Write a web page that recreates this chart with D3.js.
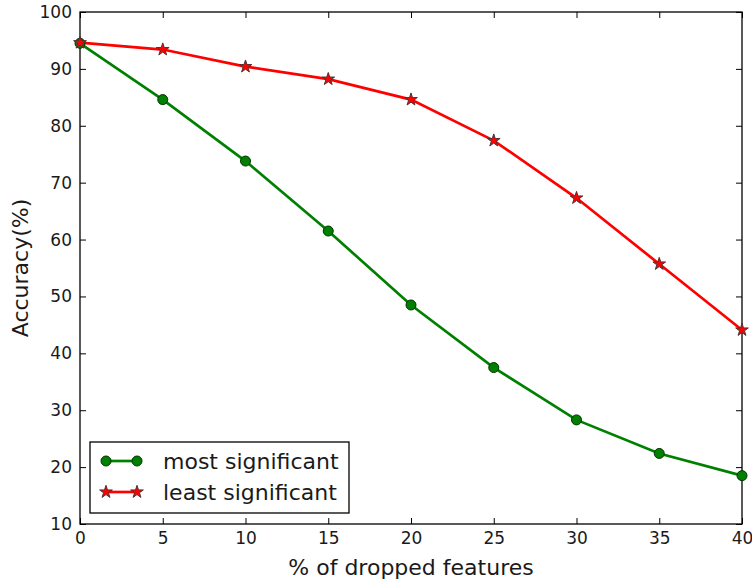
<!DOCTYPE html>
<meta charset="utf-8">
<style>
body { margin: 0; background: #fff; }
text { font-family: "DejaVu Sans", sans-serif; fill: #1a1a1a; }
.axis path, .axis line { stroke: #000; }
</style>
<body>
<svg width="752" height="582"></svg>
<script src="https://d3js.org/d3.v7.min.js"></script>
<script>
// values
var dropped = [0, 5, 10, 15, 20, 25, 30, 35, 40];
var mostSignificant  = [94.5, 84.6, 73.8, 61.5, 48.5, 37.5, 28.3, 22.4, 18.5];
var leastSignificant = [94.6, 93.4, 90.4, 88.2, 84.6, 77.4, 67.3, 55.7, 44.1];
var xTicks = [0, 5, 10, 15, 20, 25, 30, 35, 40];
var yTicks = [10, 20, 30, 40, 50, 60, 70, 80, 90, 100];

var margin = {top: 12, right: 10, bottom: 58, left: 80},
    width = 752 - margin.left - margin.right,
    height = 582 - margin.top - margin.bottom;

var svg = d3.select("svg");
var g = svg.append("g")
  .attr("transform", "translate(" + margin.left + "," + margin.top + ")");

var x = d3.scaleLinear().domain([0, 40]).range([0, width]);
var y = d3.scaleLinear().domain([10, 100]).range([height, 0]);

var tick = 6;

// bottom + top axes (ticks inward)
g.append("g").attr("class", "axis")
  .attr("transform", "translate(0," + height + ")")
  .call(d3.axisBottom(x).tickValues(xTicks).tickSizeInner(-tick).tickSizeOuter(0).tickPadding(8));
g.append("g").attr("class", "axis")
  .call(d3.axisTop(x).tickValues(xTicks).tickSizeInner(-tick).tickSizeOuter(0).tickFormat(""));
g.append("g").attr("class", "axis")
  .call(d3.axisLeft(y).tickValues(yTicks).tickSizeInner(-tick).tickSizeOuter(0).tickPadding(8));
g.append("g").attr("class", "axis")
  .attr("transform", "translate(" + width + ",0)")
  .call(d3.axisRight(y).tickValues(yTicks).tickSizeInner(-tick).tickSizeOuter(0).tickFormat(""));

svg.selectAll(".axis text").style("font-size", "17px").attr("fill", "#1a1a1a");
svg.selectAll(".axis path").style("display", "none");

// frame
g.append("rect")
  .attr("width", width).attr("height", height)
  .attr("fill", "none").attr("stroke", "#000").attr("stroke-width", 1.3);

// axis titles
svg.append("text")
  .attr("x", margin.left + width / 2).attr("y", 575)
  .attr("text-anchor", "middle").style("font-size", "22px")
  .text("% of dropped features");
svg.append("text")
  .attr("transform", "translate(28," + (margin.top + height / 2) + ")rotate(-90)")
  .attr("text-anchor", "middle").style("font-size", "22px")
  .text("Accuracy(%)");

var line = d3.line()
  .x(function(d, i) { return x(dropped[i]); })
  .y(function(d) { return y(d); });

var star = d3.symbol().type(d3.symbolStar).size(50);

g.append("path").datum(mostSignificant)
  .attr("d", line).attr("fill", "none")
  .attr("stroke", "#008000").attr("stroke-width", 2.7);
g.append("path").datum(leastSignificant)
  .attr("d", line).attr("fill", "none")
  .attr("stroke", "#ff0000").attr("stroke-width", 2.7);

g.selectAll(".dot").data(mostSignificant).enter()
  .append("circle").attr("class", "dot")
  .attr("cx", function(d, i) { return x(dropped[i]); })
  .attr("cy", function(d) { return y(d); })
  .attr("r", 5)
  .attr("fill", "#008000").attr("stroke", "#003300").attr("stroke-width", 1);

g.selectAll(".star").data(leastSignificant).enter()
  .append("path").attr("class", "star")
  .attr("transform", function(d, i) { return "translate(" + x(dropped[i]) + "," + y(d) + ")"; })
  .attr("d", star)
  .attr("fill", "#ff0000").attr("stroke", "#4d3333").attr("stroke-width", 1);

// legend
var legend = g.append("g").attr("transform", "translate(10," + (height - 82) + ")");
legend.append("rect")
  .attr("width", 259).attr("height", 71)
  .attr("fill", "#fff").attr("stroke", "#000").attr("stroke-width", 1.3);

var items = [
  {label: "most significant", color: "#008000", edge: "#003300", mark: "circle"},
  {label: "least significant", color: "#ff0000", edge: "#4d3333", mark: "star"}
];
items.forEach(function(it, i) {
  var row = legend.append("g").attr("transform", "translate(0," + (19 + i * 31) + ")");
  row.append("line").attr("x1", 16).attr("x2", 47)
    .attr("stroke", it.color).attr("stroke-width", 2.7);
  [16, 47].forEach(function(px) {
    if (it.mark === "circle") {
      row.append("circle").attr("cx", px).attr("r", 5)
        .attr("fill", it.color).attr("stroke", it.edge);
    } else {
      row.append("path").attr("transform", "translate(" + px + ",0)").attr("d", star)
        .attr("fill", it.color).attr("stroke", it.edge);
    }
  });
  row.append("text").attr("x", 73).attr("y", 8)
    .style("font-size", "22px").text(it.label);
});
</script>
</body>
